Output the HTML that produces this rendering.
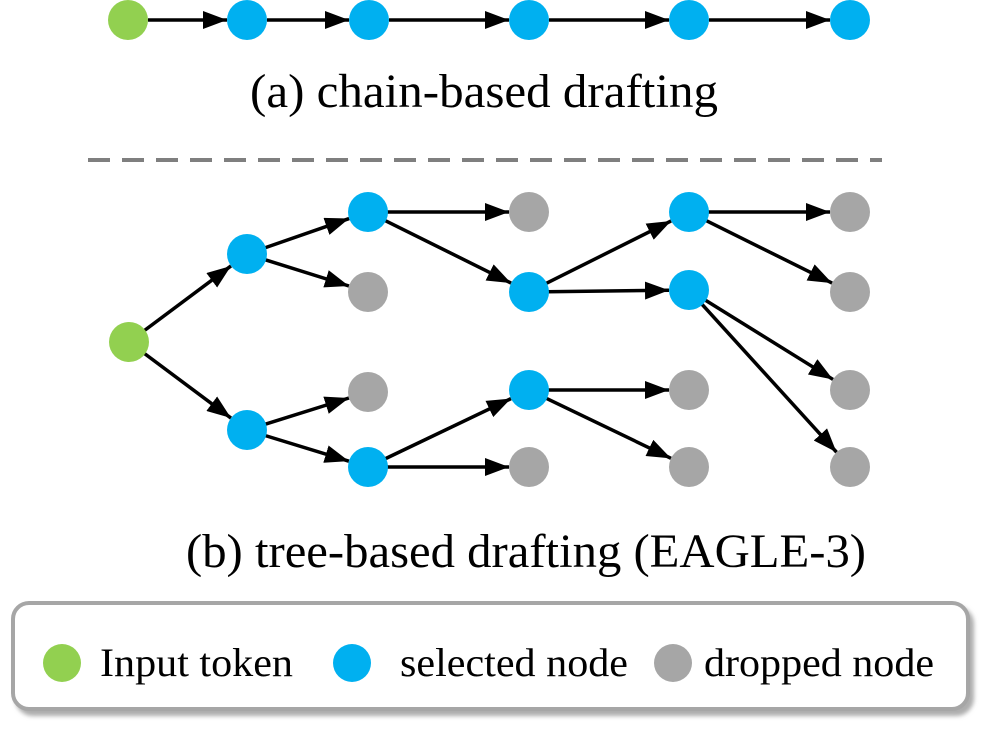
<!DOCTYPE html>
<html><head><style>body{margin:0;background:#fff}svg{display:block}</style></head><body>
<svg width="996" height="737" viewBox="0 0 996 737" xmlns="http://www.w3.org/2000/svg">
<defs>
<marker id="ah" viewBox="0 0 24 18" refX="24" refY="9" markerWidth="24" markerHeight="18" orient="auto" markerUnits="userSpaceOnUse"><path d="M0,0 L24,9 L0,18 z" fill="#000"/></marker>
<filter id="sh" x="-5%" y="-20%" width="110%" height="140%"><feDropShadow dx="4" dy="5" stdDeviation="2" flood-color="#999" flood-opacity="0.8"/></filter>
</defs>
<g stroke="#000" stroke-width="3.5" marker-end="url(#ah)" fill="none">
<line x1="148" y1="20" x2="227" y2="20"/>
<line x1="267" y1="20" x2="349" y2="20"/>
<line x1="389" y1="20" x2="509" y2="20"/>
<line x1="549" y1="20" x2="669" y2="20"/>
<line x1="709" y1="20" x2="830" y2="20"/>
</g>
<g fill="#00b0f0"><circle cx="247" cy="20" r="20"/><circle cx="369" cy="20" r="20"/><circle cx="529" cy="20" r="20"/><circle cx="689" cy="20" r="20"/><circle cx="850" cy="20" r="20"/></g>
<circle cx="128" cy="20" r="20" fill="#92d050"/>
<text x="250" y="107" font-family="Liberation Serif, serif" font-size="48" textLength="468" lengthAdjust="spacingAndGlyphs">(a) chain-based drafting</text>
<line x1="88" y1="160" x2="882" y2="160" stroke="#7f7f7f" stroke-width="4" stroke-dasharray="22,12"/>
<g stroke="#000" stroke-width="3.5" fill="none" marker-end="url(#ah)" id="edges"></g>
<g id="nodes"></g>
<text x="186" y="567" font-family="Liberation Serif, serif" font-size="48" textLength="680" lengthAdjust="spacingAndGlyphs">(b) tree-based drafting (EAGLE-3)</text>
<rect x="13" y="603" width="955" height="106" rx="16" fill="#fff" stroke="#a6a6a6" stroke-width="4" filter="url(#sh)"/>
<circle cx="62" cy="663" r="19" fill="#92d050"/>
<circle cx="352" cy="663" r="19" fill="#00b0f0"/>
<circle cx="673" cy="663" r="19" fill="#a6a6a6"/>
<g font-family="Liberation Serif, serif" font-size="40">
<text x="100" y="676" textLength="193" lengthAdjust="spacingAndGlyphs">Input token</text>
<text x="400" y="676" textLength="228" lengthAdjust="spacingAndGlyphs">selected node</text>
<text x="704" y="676" textLength="230" lengthAdjust="spacingAndGlyphs">dropped node</text>
</g>
<script>
const B="#00b0f0",G="#a6a6a6";
const N={g:[129,342,"#92d050"],b1:[247,254,B],b2:[247,430,B],c1:[368,212,B],c2:[368,292,G],c3:[368,392,G],c4:[368,467,B],
d1:[529,212,G],d2:[529,292,B],d3:[529,390,B],d4:[529,467,G],e1:[689,212,B],e2:[689,290,B],e3:[689,390,G],e4:[689,467,G],
f1:[850,212,G],f2:[850,292,G],f3:[850,390,G],f4:[850,467,G]};
const E=[["g","b1"],["g","b2"],["b1","c1"],["b1","c2"],["b2","c3"],["b2","c4"],["c1","d1"],["c1","d2"],["c4","d3"],["c4","d4"],["d2","e1"],["d2","e2"],["d3","e3"],["d3","e4"],["e1","f1"],["e1","f2"],["e2","f3"],["e2","f4"]];
const ns="http://www.w3.org/2000/svg",eg=document.getElementById("edges"),ng=document.getElementById("nodes");
for(const[a,b]of E){const[x1,y1]=N[a],[x2,y2]=N[b];const dx=x2-x1,dy=y2-y1,L=Math.hypot(dx,dy);
const l=document.createElementNS(ns,"line");l.setAttribute("x1",x1+dx/L*18);l.setAttribute("y1",y1+dy/L*18);l.setAttribute("x2",x2-dx/L*20);l.setAttribute("y2",y2-dy/L*20);eg.appendChild(l);}
for(const k in N){const[x,y,c]=N[k];const e=document.createElementNS(ns,"circle");e.setAttribute("cx",x);e.setAttribute("cy",y);e.setAttribute("r",20);e.setAttribute("fill",c);ng.appendChild(e);}
</script>
</svg>
</body></html>
